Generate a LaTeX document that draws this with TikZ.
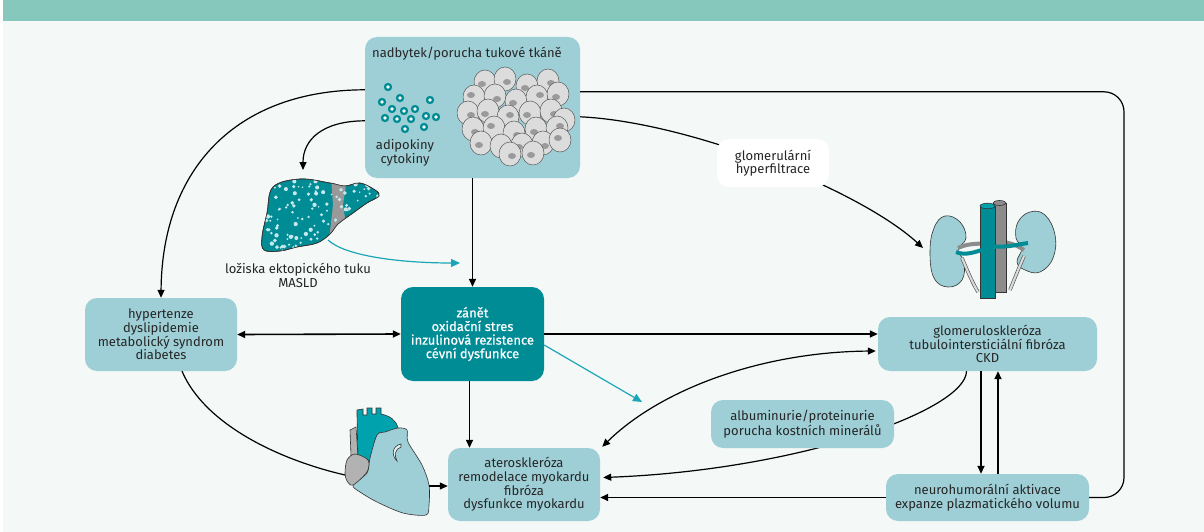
\documentclass[tikz,border=0pt]{standalone}
\usepackage{fontspec}
\setmainfont{Fira Sans}
\newfontfamily\fsmed[FakeBold=0.6]{Fira Sans}
\usetikzlibrary{arrows.meta,calc}
\definecolor{bandc}{HTML}{86C9BC}
\definecolor{bgc}{HTML}{F4F8F7}
\definecolor{boxc}{HTML}{9ECFD6}
\definecolor{darkc}{HTML}{008C95}
\definecolor{cyanc}{HTML}{1AA6B7}
\definecolor{txtc}{HTML}{262626}
\definecolor{aortac}{HTML}{00A3AD}
\definecolor{cellc}{HTML}{DCDCDC}
\definecolor{nucc}{HTML}{8A8A8A}
\newcommand\fsz{\fontsize{13}{13.6}\selectfont}
\pgfdeclarelayer{bglayer}
\pgfdeclarelayer{behind}
\pgfsetlayers{bglayer,behind,main}
\begin{document}
\begin{tikzpicture}[x=1pt,y=-1pt,
  lbox/.style={fill=boxc,rounded corners=12pt,align=center,text=txtc,font=\fsz,inner sep=0pt},
  dbox/.style={fill=darkc,rounded corners=12pt,align=center,text=white,font=\fsz\fsmed,inner sep=0pt},
  wbox/.style={fill=white,rounded corners=12pt,align=center,text=txtc,font=\fsz,inner sep=0pt},
  txt/.style={align=center,text=txtc,font=\fsz,inner sep=0pt},
  arr/.style={-{Triangle[length=8pt,width=7pt]},line width=1.6pt,draw=black},
  darr/.style={{Triangle[length=8pt,width=7pt]}-{Triangle[length=8pt,width=7pt]},line width=1.6pt,draw=black},
  carr/.style={-{Triangle[length=8pt,width=7pt]},line width=1.2pt,draw=black},
  cdarr/.style={{Triangle[length=8pt,width=7pt]}-{Triangle[length=8pt,width=7pt]},line width=1.2pt,draw=black},
  cline/.style={line width=1.2pt,draw=black},
  tarr/.style={-{Triangle[length=9pt,width=8pt]},line width=1.2pt,draw=cyanc},
  outl/.style={draw=black!80,line width=0.6pt}]
\useasboundingbox (0,0) rectangle (1204,532);
\begin{pgfonlayer}{bglayer}
\fill[white] (0,0) rectangle (1204,532);
\fill[bgc] (3,21) rectangle (1204,532);
\fill[bandc] (3,0) rectangle (1204,21);
\end{pgfonlayer}

% ---------- nodes ----------
\node[lbox,minimum width=215pt,minimum height=141pt] (top) at (472.5,107.5) {};
\node[txt] (toptitle) at (467,54) {nadbytek/porucha tukové tkáně};
\node[txt] (adipo) at (405,153) {adipokiny\\cytokiny};
\node[lbox,minimum width=152pt,minimum height=73pt] (left) at (161,334.5) {hypertenze\\dyslipidemie\\metabolický syndrom\\diabetes};
\node[dbox,minimum width=143pt,minimum height=94pt] (center) at (472.5,334) {zánět\\oxidační stres\\inzulinová rezistence\\cévní dysfunkce};
\node[lbox,minimum width=219pt,minimum height=54pt] (ckd) at (987.5,344) {glomeruloskleróza\\tubulointersticiální fibróza\\CKD};
\node[lbox,minimum width=183pt,minimum height=48pt] (alb) at (802.5,424) {albuminurie/proteinurie\\porucha kostních minerálů};
\node[lbox,minimum width=203pt,minimum height=47pt] (neuro) at (987.5,497.5) {neurohumorální aktivace\\expanze plazmatického volumu};
\node[lbox,minimum width=152pt,minimum height=73pt] (athero) at (524,484.5) {ateroskleróza\\remodelace myokardu\\fibróza\\dysfunkce myokardu};
\node[wbox,minimum width=112pt,minimum height=48pt] (glom) at (773,163) {glomerulární\\hyperfiltrace};
\node[txt] (liverlab) at (298,275.5) {ložiska ektopického tuku\\MASLD};

\coordinate (liverTop) at (303,170);
\coordinate (liverOut) at (328,240);
\coordinate (tealEnd1) at (460,263);
\coordinate (tealEnd2) at (642,402);
\coordinate (kidneyL) at (923,248);
\coordinate (heartL) at (345,475);
\coordinate (heartR) at (429,486);
\coordinate (loopx) at (1124,0);
\coordinate (loopA) at ($(top.north east)+(0,55)$);

% ---------- adipokine dots ----------
\foreach \px/\py in {388/87,382/102,400/98,430/100,392/109,404/111,415/109,385/118,397/119,411/119,426/116,436/117,405/129,424/127}{
  \fill[darkc] (\px,\py) circle (4.2pt);
  \fill[white] (\px,\py) circle (1.8pt);
}

% ---------- adipocytes ----------
\foreach \px/\py/\nx/\ny in {
 485/82/-3/2, 505/79/2/3, 527/86/-2/2, 548/81/3/2,
 474/97/-3/-2, 495/96/2/3, 516/101/-3/2, 537/97/3/-2, 558/94/-2/3,
 468/113/3/2, 488/111/-3/3, 508/117/2/-2, 530/113/-3/2, 551/111/3/3, 564/120/-2/2,
 473/129/2/3, 494/128/-3/-2, 514/133/3/2, 536/129/-2/3, 557/128/3/-2,
 481/143/-2/2, 501/146/3/3, 522/145/-3/2, 543/143/2/3, 560/140/-2/-2,
 510/154/2/2, 533/153/-2/2}{
  \filldraw[fill=cellc,draw=black!65,line width=0.5pt] (\px,\py) ellipse (11pt and 12pt);
  \fill[nucc,opacity=0.8] (\px+\nx,\py+\ny) ellipse (4pt and 3pt);
}

% ---------- liver ----------
\filldraw[fill=darkc,outl] plot[smooth cycle,tension=0.6] coordinates {(273,187) (300,179) (330,183) (345,186) (360,183) (375,190) (379,196) (367,203) (353,213) (338,224) (330,234) (317,243) (297,247) (280,251) (264,250) (262,237) (267,213)};
\begin{scope}
\clip plot[smooth cycle,tension=0.6] coordinates {(273,187) (300,179) (330,183) (345,186) (360,183) (375,190) (379,196) (367,203) (353,213) (338,224) (330,234) (317,243) (297,247) (280,251) (264,250) (262,237) (267,213)};
\fill[black!40] (331,178) -- (347,178) -- (343,205) -- (346,224) -- (336,235) -- (329,240) -- (333,205) -- cycle;
\pgfmathsetseed{7}
\foreach \i in {1,...,140}{
  \pgfmathsetmacro\xx{262+117*rnd}
  \pgfmathsetmacro\yy{179+74*rnd}
  \pgfmathsetmacro\rr{0.8+1.4*rnd}
  \fill[white!75!cyanc] (\xx,\yy) circle (\rr pt);
}
\end{scope}
\draw[outl] plot[smooth cycle,tension=0.6] coordinates {(273,187) (300,179) (330,183) (345,186) (360,183) (375,190) (379,196) (367,203) (353,213) (338,224) (330,234) (317,243) (297,247) (280,251) (264,250) (262,237) (267,213)};

% ---------- kidneys ----------
\filldraw[fill=boxc,outl] plot[smooth cycle,tension=0.7] coordinates {(945,216) (960,222) (966,238) (958,250) (964,262) (962,280) (948,287) (934,278) (930,252) (934,228)};
\filldraw[fill=boxc,outl] plot[smooth cycle,tension=0.7] coordinates {(1030,212) (1045,215) (1055,235) (1053,258) (1040,272) (1025,270) (1017,262) (1022,248) (1016,238) (1018,222)};
\draw[black!70,line width=3.4pt] (962,258) .. controls (968,272) and (972,282) .. (978,292);
\draw[black!15,line width=2.2pt] (962,258) .. controls (968,272) and (972,282) .. (978,292);
\draw[black!70,line width=3.4pt] (1024,256) .. controls (1018,270) and (1014,280) .. (1010,290);
\draw[black!15,line width=2.2pt] (1024,256) .. controls (1018,270) and (1014,280) .. (1010,290);
\draw[black!45,line width=4pt] (958,248) .. controls (970,242) and (985,244) .. (996,244);
\draw[black!45,line width=4pt] (1000,242) .. controls (1010,242) and (1018,246) .. (1024,250);
\filldraw[fill=black!45,outl] (993,203) -- (993,292) -- (1006,292) -- (1006,203) -- cycle;
\filldraw[fill=black!45,outl] (999.5,203) ellipse (6.5pt and 2.5pt);
\filldraw[fill=darkc,outl] (980,206) -- (980,298) -- (995,298) -- (995,206) -- cycle;
\filldraw[fill=aortac,outl] (987.5,206) ellipse (7.5pt and 2.8pt);
\draw[darkc,line width=4pt] (956,252) .. controls (965,256) and (975,252) .. (985,249);
\draw[darkc,line width=4pt] (990,246) .. controls (1005,248) and (1015,245) .. (1028,243);

% ---------- heart ----------
\filldraw[fill=black!30,outl] (350,430) -- (356,427) -- (358,456) -- (351,456) -- cycle;
\filldraw[fill=aortac,outl] (358,461) -- (357,415) -- (357,410) -- (363,409) -- (363,415) -- (367,415) -- (367,408) -- (372,408) -- (372,414) -- (376,414) -- (376,408) -- (381,408) -- (381,414) .. controls (390,416) and (396,420) .. (398,428) -- (380,436) -- (375,461) -- cycle;
\filldraw[fill=boxc,outl] plot[smooth cycle,tension=0.5] coordinates {(353,485) (367,473) (370,458) (377,435) (385,432) (398,428) (407,430) (408,442) (422,465) (429,485) (429,505) (426,515) (403,513) (377,502) (360,492)};
\draw[outl,fill=white!70!boxc] (401,444) .. controls (392,446) and (391,455) .. (397,461) .. controls (394,455) and (395,449) .. (401,447) -- cycle;
\filldraw[fill=black!30,outl] plot[smooth cycle,tension=0.5] coordinates {(345,473) (347,460) (355,454) (368,460) (367,472) (353,485) (347,481)};

% ---------- connectors passing behind nodes ----------
\begin{pgfonlayer}{behind}
\draw[carr] ($(top.north east)+(0,80)$) .. controls (690,122) and (860,190) .. (kidneyL);
\draw[carr] ($(ckd.south)+(-21,0)$) .. controls (966,410) and (800,470) .. ($(athero.east)+(3,-7)$);
\end{pgfonlayer}

% ---------- connectors ----------
\draw[arr] (top.south) -- (center.north);
\draw[arr] ($(center.south)+(-3,0)$) -- ($(center.south |- athero.north)+(-3,0)$);
\draw[darr] (left.east) -- (center.west);
\draw[arr] (center.east) -- (center.east -| ckd.west);
\draw[cdarr] ($(athero.north east)+(2,-1)$) .. controls (660,390) and (760,352) .. ($(ckd.west)+(-2,7)$);
\draw[arr] ($(ckd.south)+(-6.5,0)$) -- ($(neuro.north)+(-6.5,0)$);
\draw[arr] ($(neuro.north)+(10.5,0)$) -- ($(ckd.south)+(10.5,0)$);
\draw[arr] (neuro.west) -- (neuro.west -| athero.east);
\draw[line width=1.2pt,-{Triangle[length=8pt,width=7pt]}] (heartR) -- (heartR -| athero.west);
\draw[cline] ($(left.south)+(21,0)$) .. controls (205,425) and (280,460) .. (heartL);
\draw[carr] ($(top.north west)+(0,53)$) .. controls (235,90) and (162,170) .. (left.north);
\draw[carr] ($(top.north west)+(0,84)$) .. controls (322,121) and (303,140) .. (liverTop);
\draw[cline,rounded corners=20pt] (loopA) -- (loopA -| loopx) -- (loopx |- neuro.east) -- (neuro.east);
\draw[tarr] (liverOut) .. controls (345,256) and (400,263) .. (tealEnd1);
\draw[tarr] ($(center.east)+(0,11)$) -- (tealEnd2);
\end{tikzpicture}
\end{document}
